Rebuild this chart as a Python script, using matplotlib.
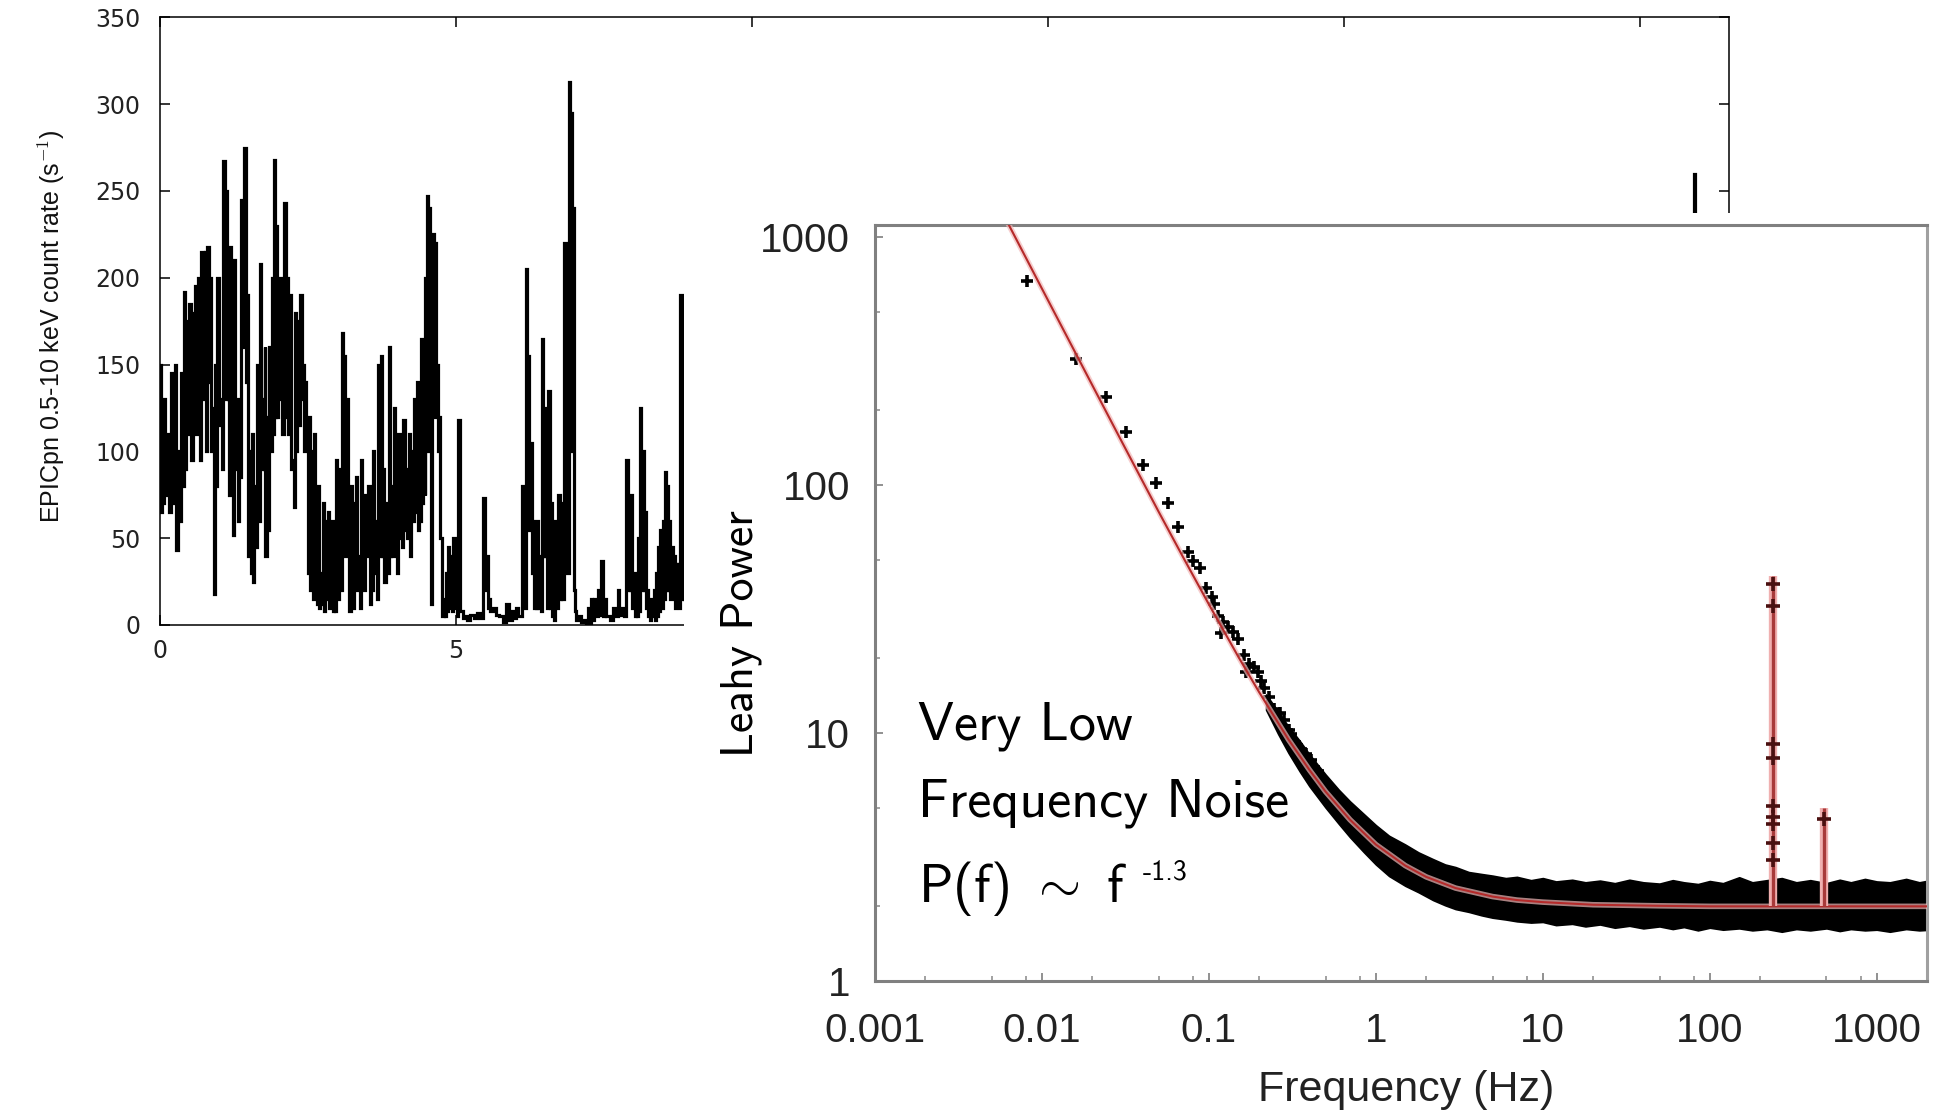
import numpy as np
import matplotlib
matplotlib.use("Agg")
import matplotlib.pyplot as plt
from matplotlib.ticker import FixedLocator, FixedFormatter, NullFormatter

plt.rcParams['mathtext.fontset'] = 'cm'

# ---------------- Light curve (time in ks, EPIC-pn rate in counts/s) ----------------
lc_time = [0.00, 0.04, 0.08, 0.15, 0.21, 0.26, 0.32, 0.38, 0.42, 0.45, 0.51, 0.57, 0.60, 0.66, 0.72, 0.77,
           0.81, 0.85, 0.91, 0.94, 0.98, 1.03, 1.08, 1.12, 1.16, 1.19, 1.22, 1.26, 1.31, 1.34, 1.38, 1.44,
           1.48, 1.53, 1.56, 1.61, 1.66, 1.70, 1.74, 1.77, 1.81, 1.85, 1.90, 1.93, 1.96, 2.00, 2.05, 2.11,
           2.15, 2.21, 2.25, 2.29, 2.33, 2.38, 2.42, 2.45, 2.49, 2.53, 2.57, 2.61, 2.64, 2.68, 2.72, 2.76,
           2.81, 2.85, 2.91, 2.95, 2.98, 3.04, 3.08, 3.11, 3.16, 3.19, 3.23, 3.29, 3.32, 3.36, 3.40, 3.44,
           3.47, 3.53, 3.57, 3.61, 3.65, 3.70, 3.74, 3.78, 3.83, 3.87, 3.91, 3.96, 3.99, 4.04, 4.08, 4.12,
           4.17, 4.21, 4.25, 4.31, 4.34, 4.38, 4.42, 4.46, 4.48, 4.52, 4.55, 4.57, 4.61, 4.65, 4.68, 4.72,
           4.76, 4.80, 4.83, 4.87, 4.92, 4.97, 5.00, 5.06, 5.10, 5.17, 5.29, 5.40, 5.48, 5.53, 5.57, 5.66,
           5.78, 5.89, 5.97, 6.04, 6.16, 6.19, 6.23, 6.27, 6.31, 6.34, 6.38, 6.42, 6.46, 6.50, 6.53, 6.57,
           6.61, 6.65, 6.68, 6.74, 6.78, 6.84, 6.87, 6.91, 6.95, 6.99, 7.02, 7.10, 7.18, 7.25, 7.29, 7.36,
           7.40, 7.48, 7.52, 7.59, 7.70, 7.74, 7.82, 7.89, 7.93, 7.97, 8.01, 8.04, 8.08, 8.12, 8.16, 8.19,
           8.23, 8.27, 8.31, 8.35, 8.38, 8.42, 8.46, 8.50, 8.53, 8.57, 8.61, 8.65, 8.69, 8.72, 8.76, 8.80,
           8.84, 8.87,
           10.0, 14.0, 18.0, 22.0, 25.88, 25.92, 26.30]
lc_high = [150, 100, 130, 110, 145, 150, 100, 145, 192, 175, 185, 180, 195, 200, 215, 215,
           218, 200, 125, 150, 200, 115, 267, 250, 130, 218, 120, 210, 130, 125, 245, 275,
           190, 100, 110, 80, 150, 208, 130, 160, 120, 160, 200, 268, 230, 180, 200, 243,
           200, 190, 95, 180, 175, 190, 150, 140, 110, 120, 100, 110, 28, 80, 30, 70,
           60, 65, 60, 20, 95, 90, 168, 155, 130, 20, 80, 70, 85, 40, 95, 70,
           75, 80, 70, 100, 60, 150, 155, 90, 70, 160, 80, 125, 60, 110, 80, 118,
           90, 110, 100, 130, 140, 105, 165, 105, 200, 247, 240, 150, 225, 220, 150, 120,
           50, 15, 30, 45, 40, 50, 10, 118, 8, 5, 6, 7, 73, 40, 15, 10,
           5, 12, 8, 10, 80, 205, 155, 105, 60, 35, 60, 40, 165, 125, 100, 135,
           70, 20, 60, 75, 70, 220, 150, 313, 295, 240, 8, 5, 3, 10, 15, 15,
           20, 37, 15, 5, 10, 20, 10, 95, 70, 75, 30, 20, 50, 125, 100, 65,
           20, 10, 15, 20, 30, 45, 55, 60, 88, 80, 60, 45, 40, 35, 35, 190,
           70, 25,
           30, 25, 35, 30, 20, 260, 25]
lc_low = [65, 70, 75, 65, 70, 43, 60, 80, 90, 110, 95, 130, 110, 95, 130, 100,
          140, 100, 18, 80, 130, 90, 130, 150, 75, 100, 52, 90, 60, 85, 160, 140,
          40, 30, 25, 45, 60, 90, 90, 40, 55, 100, 110, 120, 120, 130, 110, 120,
          110, 90, 68, 100, 115, 130, 100, 110, 30, 20, 15, 25, 12, 10, 12, 8,
          15, 10, 8, 8, 15, 20, 60, 40, 60, 8, 10, 25, 20, 10, 35, 20,
          40, 12, 20, 30, 15, 40, 40, 25, 30, 40, 40, 50, 30, 50, 45, 55,
          50, 40, 60, 65, 55, 60, 70, 75, 100, 140, 100, 12, 120, 140, 100, 50,
          5, 5, 8, 10, 8, 10, 5, 8, 4, 3, 4, 4, 20, 10, 8, 6,
          2, 3, 4, 5, 10, 60, 55, 30, 10, 10, 10, 8, 40, 40, 10, 10,
          5, 3, 10, 15, 15, 30, 30, 155, 100, 20, 3, 2, 1, 1, 3, 5,
          6, 5, 5, 3, 5, 6, 5, 20, 20, 10, 5, 5, 8, 20, 20, 10,
          5, 3, 5, 3, 5, 8, 10, 15, 20, 20, 15, 20, 10, 15, 10, 15,
          15, 10,
          10, 12, 10, 15, 15, 20, 15]
lc_xticks = [0, 5, 10, 15, 20, 25]
lc_xticklabels = ['0', '5', '', '', '', '']
lc_yticks = [0, 50, 100, 150, 200, 250, 300, 350]

# ---------------- Power density spectrum ----------------
ps_freq = [0.00809, 0.0161, 0.0241, 0.0320, 0.0403, 0.0479, 0.0568, 0.0651, 0.0748, 0.0807, 0.0889,
           0.0962, 0.104, 0.107, 0.113, 0.118, 0.122, 0.130, 0.140, 0.150, 0.163, 0.167, 0.175, 0.185,
           0.196, 0.205, 0.215, 0.230, 0.246, 0.265, 0.283, 0.300, 0.310, 0.330, 0.356, 0.380, 0.408, 0.450]
ps_power = [667, 321, 227, 163, 120, 102, 84.5, 67.6, 53.6, 49.3, 46.2,
            38.5, 35.4, 33.0, 29.5, 25.4, 28.0, 26.7, 25.5, 24.0, 20.6, 17.7, 19.0, 18.5,
            17.7, 16.2, 15.2, 14.0, 12.5, 12.0, 11.3, 10.3, 9.9, 9.2, 8.65, 8.2, 7.8, 7.0]

band_freq = [0.22, 0.26, 0.3, 0.35, 0.4, 0.5, 0.6, 0.7, 0.85, 1.0, 1.2, 1.5, 1.8, 2.2, 2.6,
             3, 3.6, 4.3, 5, 6, 7, 8.5, 10, 12, 15, 18, 22, 27, 33, 40, 50, 60, 70, 85, 100,
             120, 150, 180, 220, 270, 330, 400, 500, 600, 700, 850, 1000, 1200, 1500, 1800, 2100]
band_hi = [14.3, 12.2, 10.6, 9.3, 8.2, 6.8, 5.9, 5.3, 4.7, 4.25, 3.85, 3.55, 3.3, 3.1, 2.95,
           2.88, 2.75, 2.7, 2.66, 2.6, 2.63, 2.55, 2.6, 2.52, 2.56, 2.5, 2.54, 2.48, 2.56, 2.5,
           2.47, 2.55, 2.5, 2.46, 2.53, 2.48, 2.62, 2.5, 2.55, 2.6, 2.5, 2.55, 2.48, 2.56, 2.5,
           2.58, 2.52, 2.5, 2.58, 2.5, 2.55]
band_lo = [12.4, 9.9, 8.3, 7.0, 6.1, 5.0, 4.3, 3.8, 3.3, 2.95, 2.65, 2.42, 2.28, 2.12, 2.02,
           1.95, 1.9, 1.84, 1.8, 1.77, 1.74, 1.72, 1.73, 1.68, 1.7, 1.66, 1.69, 1.64, 1.67, 1.63,
           1.66, 1.62, 1.65, 1.6, 1.64, 1.61, 1.63, 1.6, 1.62, 1.58, 1.62, 1.6, 1.63, 1.59, 1.62,
           1.6, 1.61, 1.58, 1.62, 1.6, 1.61]

model_freq = [0.006, 0.01, 0.02, 0.03, 0.05, 0.07, 0.1, 0.15, 0.2, 0.3, 0.4, 0.5, 0.7, 1.0, 1.5,
              2.0, 3.0, 5.0, 7.0, 10, 20, 50, 100, 2100]
model_power = [1200, 619, 253, 150, 78, 51.2, 33, 20.3, 14.6, 9.4, 7.1, 5.8, 4.47, 3.55, 2.92,
               2.63, 2.37, 2.19, 2.12, 2.08, 2.03, 2.01, 2.0, 2.0]

qpo_freq = [240, 480]
qpo_base = [2.0, 2.0]
qpo_top = [43, 5.0]
qpo_pt_freq = [240, 240, 240, 240, 240, 240, 240, 240, 240, 480]
qpo_pt_power = [39.8, 32.5, 9.03, 7.91, 5.09, 4.60, 4.30, 3.59, 3.07, 4.49]

ps_xticks = [0.001, 0.01, 0.1, 1, 10, 100, 1000]
ps_xticklabels = ['0.001', '0.01', '0.1', '1', '10', '100', '1000']
ps_yticks = [1, 10, 100, 1000]
ps_yticklabels = ['1', '10', '100', '1000']

W, H = 1947, 1112
fig = plt.figure(figsize=(W / 100, H / 100), dpi=100)
fig.patch.set_facecolor('white')

def frac(x0, y_top, x1, y_bot):
    return [x0 / W, 1 - y_bot / H, (x1 - x0) / W, (y_bot - y_top) / H]

# ---------------- light curve axes ----------------
ax1 = fig.add_axes(frac(160, 17.4, 1729, 625))
t = np.empty(2 * len(lc_time))
r = np.empty(2 * len(lc_time))
t[0::2] = lc_time
t[1::2] = np.asarray(lc_time) + 0.02
r[0::2] = lc_high
r[1::2] = lc_low
ax1.plot(t, r, color='black', lw=2.3, drawstyle='steps-mid', solid_joinstyle='miter')
ax1.set_xlim(0, 26.5)
ax1.set_ylim(0, 350)
ax1.set_xticks(lc_xticks)
ax1.set_xticklabels(lc_xticklabels)
ax1.set_yticks(lc_yticks)
ax1.tick_params(direction='in', top=True, right=True, length=7, width=1.1,
                labelsize=17, labelcolor='#222222', colors='black')
ax1.tick_params(axis='y', pad=14)
ax1.tick_params(axis='x', pad=10)
for s in ax1.spines.values():
    s.set_linewidth(1.1)
ax1.text(-0.069, 0.492, 'EPICpn 0.5-10 keV count rate (s$^{-1}$)', transform=ax1.transAxes,
         rotation=90, ha='center', va='center', fontsize=18, color='#111111',
         family=['Liberation Sans Narrow', 'Liberation Sans'])

# ---------------- white cover (inset background) ----------------
axc = fig.add_axes(frac(684, 213, W, H))
axc.set_facecolor('white')
axc.set_xticks([])
axc.set_yticks([])
for s in axc.spines.values():
    s.set_visible(False)

# ---------------- power spectrum inset ----------------
ax2 = fig.add_axes(frac(875, 225, 1927, 981))
ax2.set_xscale('log')
ax2.set_yscale('log')
ax2.fill_between(band_freq, band_lo, band_hi, color='black', lw=1.2, edgecolor='black', zorder=2)
ax2.plot(ps_freq, ps_power, ls='none', marker='+', ms=9, mew=2.6, color='black', zorder=2)
ax2.plot(model_freq, model_power, color='#f2b8b8', lw=4.0, alpha=0.7, zorder=3)
ax2.plot(model_freq, model_power, color='#b52a2a', lw=1.5, zorder=3)
ax2.vlines(qpo_freq, qpo_base, qpo_top, color='#f0b0b0', lw=6, zorder=3)
ax2.vlines(qpo_freq, qpo_base, qpo_top, color='#a83a3a', lw=2.4, zorder=3)
ax2.plot(qpo_pt_freq, qpo_pt_power, ls='none', marker='+', ms=10, mew=2.6, color='#4a1010', zorder=4)

ax2.set_xlim(0.001, 2000)
ax2.set_ylim(1, 1118)
ax2.xaxis.set_major_locator(FixedLocator(ps_xticks))
ax2.xaxis.set_major_formatter(FixedFormatter(ps_xticklabels))
ax2.yaxis.set_major_locator(FixedLocator(ps_yticks))
ax2.yaxis.set_major_formatter(FixedFormatter(ps_yticklabels))
xminor = [d * m for d in [0.001, 0.01, 0.1, 1, 10, 100, 1000] for m in (2, 5, 8)]
yminor = [d * m for d in [1, 10, 100] for m in (2, 5)]
ax2.xaxis.set_minor_locator(FixedLocator(xminor))
ax2.yaxis.set_minor_locator(FixedLocator(yminor))
ax2.xaxis.set_minor_formatter(NullFormatter())
ax2.yaxis.set_minor_formatter(NullFormatter())
ax2.tick_params(which='major', direction='in', length=6, width=1.3, color='#888888',
                labelsize=29, labelcolor='#222222')
ax2.tick_params(which='minor', direction='in', length=3.5, width=1.1, color='#888888')
ax2.tick_params(axis='x', which='major', pad=22)
ax2.tick_params(axis='y', which='major', pad=18)
for lab in ax2.get_xticklabels() + ax2.get_yticklabels():
    lab.set_family(['Liberation Sans', 'DejaVu Sans'])
for s in ax2.spines.values():
    s.set_color('#808080')
    s.set_linewidth(2.2)
ax2.spines['right'].set_color('#a0a0a0')

ax2.text(-0.127, 0.46, 'Leahy Power', transform=ax2.transAxes, rotation=90,
         ha='center', va='center', fontsize=33, color='black', family=['cmss10', 'DejaVu Sans'])
ax2.text(0.505, -0.144, 'Frequency (Hz)', transform=ax2.transAxes, ha='center', va='center',
         fontsize=31, color='#222222', family=['Liberation Sans', 'DejaVu Sans'])

ann_font = ['cmss10', 'DejaVu Sans']
ax2.text(0.041, 0.319, 'Very Low', transform=ax2.transAxes, fontsize=39, va='baseline',
         family=ann_font, color='black')
ax2.text(0.041, 0.217, 'Frequency Noise', transform=ax2.transAxes, fontsize=39, va='baseline',
         family=ann_font, color='black')
main = ax2.text(0.041, 0.105, r'P(f) $\sim\,\,$f', transform=ax2.transAxes, fontsize=39,
                va='baseline', family=ann_font, color='black')
ax2.annotate('-1.3', xy=(1.0, 0.1336), xycoords=(main, 'axes fraction'),
             xytext=(16, 0), textcoords='offset pixels', fontsize=20, va='baseline',
             ha='left', family=ann_font, color='black')

fig.savefig('out.png', dpi=100, facecolor='white')
